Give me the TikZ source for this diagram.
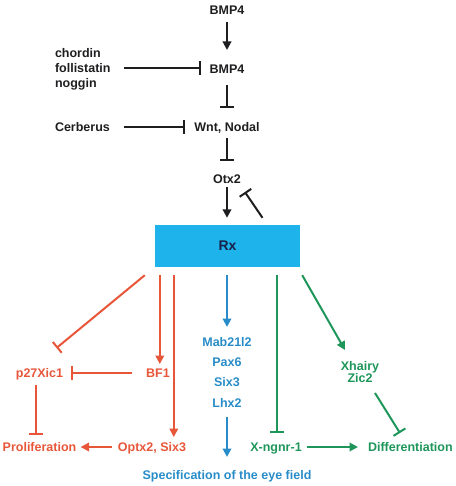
\documentclass[tikz,border=0pt]{standalone}
\usepackage{fontspec}
\setmainfont{Liberation Sans}
\usetikzlibrary{arrows.meta,calc}
\definecolor{inkblack}{RGB}{30,30,32}
\definecolor{rxblue}{RGB}{30,180,235}
\definecolor{rxnavy}{RGB}{22,34,74}
\definecolor{eyered}{RGB}{232,86,58}
\definecolor{eyeblue}{RGB}{40,140,200}
\definecolor{eyegreen}{RGB}{30,150,90}

\begin{document}
\begin{tikzpicture}[x=1pt, y=-1pt, >={Triangle[length=8.5pt,width=8.5pt]},
    lbl/.style={font=\fontsize{12.5}{15}\selectfont\bfseries, inner sep=2pt, outer sep=0pt, text height=9pt, text depth=0pt},
    act/.style={->, line width=2pt},
    inh/.style={-{Bar[width=14pt]}, line width=2pt},
    rxbox/.style={fill=rxblue, minimum width=145pt, minimum height=42pt, inner sep=0pt, text=rxnavy, font=\fontsize{14}{16}\selectfont\bfseries}]
    \useasboundingbox (0,0) rectangle (455,486);

    \node[lbl, text=inkblack] (bmpa) at (227,10) {BMP4};
    \node[lbl, text=inkblack] (bmpb) at (227,69) {BMP4};
    \node[lbl, text=inkblack, anchor=west] (chor) at (53,53) {chordin};
    \node[lbl, text=inkblack, anchor=west] (foll) at (53,68) {follistatin};
    \node[lbl, text=inkblack, anchor=west] (nog) at (53,83) {noggin};
    \node[lbl, text=inkblack, anchor=west] (cerb) at (53,127) {Cerberus};
    \node[lbl, text=inkblack] (wnt) at (227,127) {Wnt, Nodal};
    \node[lbl, text=inkblack] (otx) at (227,179) {Otx2};
    \node[rxbox] (rx) at (227.5,246) {Rx};

    \node[lbl, text=eyered] (p27) at (39.5,373) {p27Xic1};
    \node[lbl, text=eyered] (bf1) at (158,373) {BF1};
    \node[lbl, text=eyered] (prolif) at (39.5,447) {Proliferation};
    \node[lbl, text=eyered] (optx) at (152,447) {Optx2, Six3};

    \node[lbl, text=eyeblue] (mab) at (227,342) {Mab21l2};
    \node[lbl, text=eyeblue] (pax) at (227,362) {Pax6};
    \node[lbl, text=eyeblue] (sixb) at (227,382) {Six3};
    \node[lbl, text=eyeblue] (lhx) at (227,403) {Lhx2};
    \node[lbl, text=eyeblue] (spec) at (227,475) {Specification of the eye field};

    \node[lbl, text=eyegreen] (xhairy) at (360,366) {Xhairy};
    \node[lbl, text=eyegreen] (zic) at (360,378) {Zic2};
    \node[lbl, text=eyegreen] (xngnr) at (276,447) {X-ngnr-1};
    \node[lbl, text=eyegreen, anchor=west] (diff) at (366,447) {Differentiation};

    \draw[act, inkblack, shorten <=5.5pt, shorten >=12.5pt] (bmpa) -- (bmpb);
    \draw[inh, inkblack, shorten <=11.4pt, shorten >=6.6pt] (foll.east) -- (foll.east -| bmpb.west);
    \draw[inh, inkblack, shorten <=9.5pt, shorten >=12.5pt] (bmpb) -- (wnt);
    \draw[inh, inkblack, shorten <=12pt, shorten >=7.4pt] (cerb) -- (wnt);
    \draw[inh, inkblack, shorten <=4.5pt, shorten >=11.5pt] (wnt) -- (otx);
    \draw[act, inkblack, shorten <=1.5pt, shorten >=7pt] (otx) -- (otx |- rx.north);
    \draw[inh, inkblack] ([xshift=35pt,yshift=7pt]rx.north) -- ([xshift=2pt,yshift=-6.5pt]otx.south east);

    \coordinate (rm) at ([xshift=5pt,yshift=-8pt]rx.south west);
    \coordinate (rr) at ([xshift=19pt,yshift=-8pt]rx.south west);
    \draw[inh, eyered] ([xshift=-10pt,yshift=-8pt]rx.south west) -- ([xshift=17pt,yshift=18.5pt]p27.north);
    \draw[act, eyered, shorten >=2.5pt] (rm) -- (rm |- bf1.north);
    \draw[act, eyered, shorten >=3.5pt] (rr) -- (rr |- optx.north);
    \draw[inh, eyered, shorten <=12pt, shorten >=5.7pt] (bf1) -- (p27);
    \draw[inh, eyered, shorten <=5.5pt, shorten >=5.5pt] ([xshift=-4pt]p27.south) -- ([xshift=-4pt]prolif.north);
    \draw[act, eyered, shorten <=4pt, shorten >=2.3pt] (optx) -- (prolif);

    \draw[act, eyeblue, shorten <=8pt, shorten >=8.5pt] (rx.south -| mab) -- (mab);
    \draw[act, eyeblue, shorten <=7.5pt, shorten >=11.5pt] (lhx) -- (spec);

    \coordinate (gm) at ([xshift=49.5pt,yshift=-8pt]rx.south);
    \draw[inh, eyegreen, shorten >=7.5pt] (gm) -- (gm |- xngnr.north);
    \draw[act, eyegreen, shorten <=3.3pt, shorten >=8pt] (xngnr) -- (diff);
    \draw[act, eyegreen] ([xshift=2pt,yshift=-8pt]rx.south east) -- ([xshift=-15pt,yshift=9.5pt]xhairy.north);
    \draw[inh, eyegreen] ([xshift=15pt,yshift=-8.5pt]zic.south) -- ([xshift=-10.4pt,yshift=7.5pt]diff.north);
\end{tikzpicture}
\end{document}
